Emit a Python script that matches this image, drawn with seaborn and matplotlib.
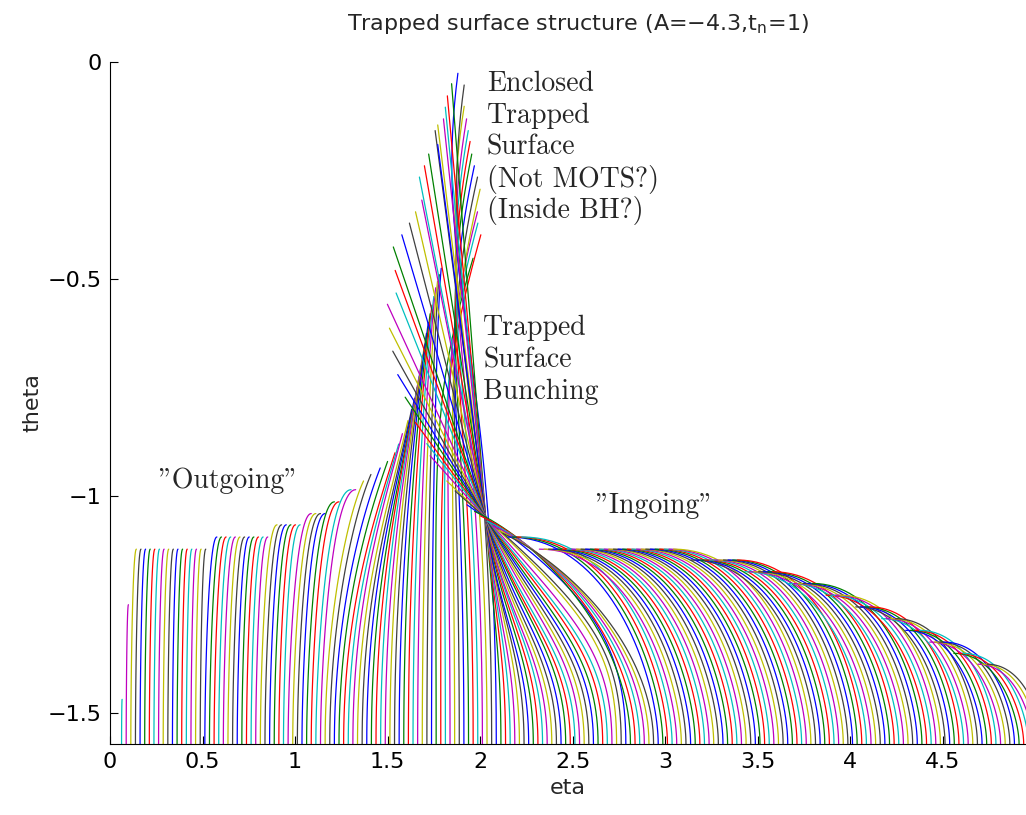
import numpy as np
import pandas as pd
import matplotlib

matplotlib.use("Agg")

import matplotlib.pyplot as plt
import seaborn as sns


# feet of the surfaces along theta = -pi/2 (a regular grid in eta)
FOOT_FIRST = 0.0625
FOOT_SPACING = 0.025
THETA_FOOT = -np.pi / 2

# matlab default colour order, the leftmost foot is cyan
matlab_colors = ["#0000ff", "#008000", "#ff0000", "#00bfbf", "#bf00bf", "#bfbf00", "#404040"]
first_color = 3

# "outgoing" surfaces: stepped tops, bending right
out_top_theta = [-1.468, -1.250, -1.122, -1.094, -1.066, -1.040, -1.013, -0.985]
out_count = [1, 1, 16, 12, 6, 4, 2, 2]
out_bend = [0.003, 0.012, 0.030, 0.065, 0.090, 0.125, 0.150, 0.190]

# outgoing surfaces whose tops climb the left flank of the spire (lowest first)
flank_top_eta = [1.37, 1.41, 1.46, 1.50, 1.54, 1.56, 1.58, 1.61, 1.63, 1.645, 1.66, 1.67,
                 1.68, 1.69, 1.70, 1.71, 1.72, 1.73, 1.74, 1.75, 1.76, 1.77, 1.78, 1.79]
flank_top_theta = [-0.965, -0.950, -0.935, -0.920, -0.900, -0.880, -0.856, -0.826, -0.800,
                   -0.775, -0.750, -0.725, -0.700, -0.675, -0.650, -0.625, -0.600, -0.580,
                   -0.560, -0.540, -0.520, -0.505, -0.490, -0.475]

# outgoing surfaces reaching the right edge of the spire (lowest first)
tall_out_top_eta = [1.962, 2.004, 1.988, 1.986, 2.000, 1.986, 1.969, 1.955, 1.946,
                    1.936, 1.927, 1.914, 1.914, 1.880]
tall_out_top_theta = [-0.452, -0.398, -0.371, -0.345, -0.293, -0.265, -0.239, -0.212,
                      -0.183, -0.158, -0.131, -0.102, -0.053, -0.026]

# "ingoing" surfaces through the focal point, tops on the left edge (highest first)
tall_in_top_eta = [1.846, 1.823, 1.812, 1.802, 1.771, 1.757, 1.771, 1.722, 1.699,
                   1.672, 1.685, 1.651, 1.618, 1.577, 1.531, 1.541, 1.546, 1.499,
                   1.510, 1.528, 1.555, 1.595, 1.650, 1.712, 1.730, 1.820, 1.865,
                   1.930, 1.970, 2.000, 2.040, 2.070, 2.100, 2.125]
tall_in_top_theta = [-0.050, -0.078, -0.104, -0.131, -0.145, -0.158, -0.190, -0.212, -0.239,
                     -0.265, -0.318, -0.345, -0.371, -0.398, -0.426, -0.480, -0.532, -0.558,
                     -0.613, -0.666, -0.720, -0.772, -0.830, -0.879, -0.907, -0.965, -0.988,
                     -1.020, -1.035, -1.045, -1.058, -1.068, -1.078, -1.086]
focal_point = (2.03, -1.05)

# ingoing surfaces with stepped tops, bending left
in_top_theta = [-1.094, -1.122, -1.147, -1.174, -1.201, -1.228, -1.255, -1.282,
                -1.309, -1.336, -1.362, -1.387]
in_top_start = [2.150, 2.320, 3.140, 3.430, 3.670, 3.870, 4.030, 4.170,
                4.300, 4.430, 4.560, 4.690]
in_count = [4, 30, 11, 7, 6, 4, 4, 4, 4, 4, 3, 3]

annotations = [
    ("Enclosed", 2.036, -0.067),
    ("Trapped", 2.036, -0.140),
    ("Surface", 2.036, -0.214),
    ("(Not MOTS?)", 2.036, -0.287),
    ("(Inside BH?)", 2.036, -0.360),
    ("Trapped", 2.018, -0.629),
    ("Surface", 2.018, -0.703),
    ("Bunching", 2.018, -0.776),
    ('"Outgoing"', 0.260, -0.981),
    ('"Ingoing"', 2.620, -1.038),
]


def bezier(p0, p1, p2, p3, n=40):
    t = np.linspace(0.0, 1.0, n)[:, None]
    pts = [np.asarray(p, dtype=float) for p in (p0, p1, p2, p3)]
    return ((1 - t) ** 3 * pts[0] + 3 * (1 - t) ** 2 * t * pts[1]
            + 3 * (1 - t) * t ** 2 * pts[2] + t ** 3 * pts[3])


def step_arc(x0, xt, tt):
    # vertical at the foot, flat at the top, bend spread over the height
    h = tt - THETA_FOOT
    return bezier((x0, THETA_FOOT), (x0, THETA_FOOT + 0.3 * h),
                  (xt - 0.7 * (xt - x0), tt), (xt, tt))


def sloped_arc(x0, xt, tt, slope):
    # vertical at the foot, leaving the top with d(theta)/d(eta) = slope
    h = tt - THETA_FOOT
    d = 0.45 * abs(x0 - xt)
    sign = np.sign(xt - x0)
    return bezier((x0, THETA_FOOT), (x0, THETA_FOOT + 0.45 * h),
                  (xt - sign * d, tt - slope * d), (xt, tt))


def tall_out_curve(x0, xt, tt):
    h = tt - THETA_FOOT
    lean = np.interp(tt, [-0.45, -0.03], [0.7, 0.3])
    return bezier((x0, THETA_FOOT), (x0, THETA_FOOT + 0.6 * h),
                  (xt - lean * 0.3 * h, tt - 0.3 * h), (xt, tt))


def tall_in_curve(x0, xt, tt):
    xc, tc = focal_point
    if tt < tc + 0.03:
        return sloped_arc(x0, xt, tt, 0.2)
    h = tc - THETA_FOOT
    slope = (xc - xt) / (tt - tc)
    reach = min(0.45 * h * slope, 0.8 * (x0 - xc))
    lower = bezier((x0, THETA_FOOT), (x0, THETA_FOOT + 0.4 * h),
                   (xc + reach, tc - reach / slope), (xc, tc))
    upper = np.array([[xc, tc], [xt, tt]])
    return np.vstack([lower, upper])


def foot(i):
    return FOOT_FIRST + FOOT_SPACING * i


curves = []
index = 0
for tt, n, w in zip(out_top_theta, out_count, out_bend):
    for _ in range(n):
        x0 = foot(index)
        curves.append(step_arc(x0, x0 + w, tt))
        index += 1

for xt, tt in zip(flank_top_eta, flank_top_theta):
    slope = np.interp(tt, [-0.965, -0.8, -0.47], [0.9, 2.0, 4.0])
    curves.append(sloped_arc(foot(index), xt, tt, slope))
    index += 1

for xt, tt in zip(tall_out_top_eta, tall_out_top_theta):
    curves.append(tall_out_curve(foot(index), xt, tt))
    index += 1

for xt, tt in zip(tall_in_top_eta, tall_in_top_theta):
    curves.append(tall_in_curve(foot(index), xt, tt))
    index += 1

for tt, start, n in zip(in_top_theta, in_top_start, in_count):
    for j in range(n):
        curves.append(step_arc(foot(index), start + FOOT_SPACING * j, tt))
        index += 1

frames = []
palette = {}
for i, pts in enumerate(curves):
    name = f"s{i:03d}"
    palette[name] = matlab_colors[(i + first_color) % 7]
    frames.append(pd.DataFrame({"eta": pts[:, 0], "theta": pts[:, 1], "surface": name}))
df = pd.concat(frames, ignore_index=True)

sns.set_style("ticks")
plt.rcParams["font.family"] = ["DejaVu Sans"]
plt.rcParams["mathtext.fontset"] = "dejavusans"

fig = plt.figure(figsize=(10.26, 8.15), dpi=100)
ax = fig.add_axes([110 / 1026, 71 / 815, 916 / 1026, 682 / 815])

sns.lineplot(data=df, x="eta", y="theta", hue="surface", palette=palette, sort=False,
             estimator=None, legend=False, linewidth=0.9, ax=ax)

ax.set_xlim(0, 4.95)
ax.set_ylim(THETA_FOOT, 0)
ax.set_xticks(np.arange(0, 4.6, 0.5))
ax.set_xticklabels(["0", "0.5", "1", "1.5", "2", "2.5", "3", "3.5", "4", "4.5"])
ax.set_yticks([-1.5, -1.0, -0.5, 0.0])
ax.set_yticklabels(["\u22121.5", "\u22121", "\u22120.5", "0"])
ax.tick_params(direction="in", length=6, width=0.8, labelsize=16, pad=6, colors="black")
for side in ("top", "right"):
    ax.spines[side].set_visible(False)
for side in ("left", "bottom"):
    ax.spines[side].set_linewidth(0.8)
    ax.spines[side].set_color("black")

ax.set_xlabel("eta", fontsize=16, labelpad=4)
ax.set_ylabel("theta", fontsize=16, labelpad=4)
fig.text(578 / 1026, 1 - 30 / 815, "Trapped surface structure (A=\u22124.3,t$_\\mathregular{n}$=1)",
         ha="center", va="baseline", fontsize=16)

for label, x, y in annotations:
    ax.text(x, y, label, fontsize=20, family=["cmr10", "DejaVu Serif"], va="baseline", ha="left")

fig.savefig("out.png", dpi=100)
